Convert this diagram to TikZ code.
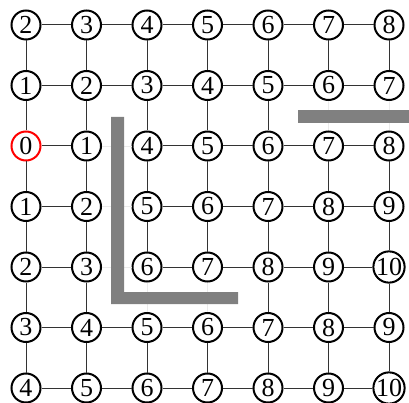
\documentclass[tikz,border=0pt]{standalone}
\usepackage{fontspec}
\setmainfont{Liberation Serif}
\begin{document}
\begin{tikzpicture}[x=1pt,y=-1pt,
  cell/.style={circle,draw=black,fill=white,line width=2pt,minimum size=29pt,inner sep=0pt,font=\fontsize{26}{26}\selectfont},
  startcell/.style={cell,draw=red},
  edge/.style={draw=black!80,line width=1pt},
  faint/.style={draw=black!8,line width=0.8pt},
  wall/.style={fill=black!50,draw=none}]
\useasboundingbox (0,0) rectangle (409,403);
\foreach \row [count=\r from 0] in {{2,3,4,5,6,7,8},{1,2,3,4,5,6,7},{0,1,4,5,6,7,8},{1,2,5,6,7,8,9},{2,3,6,7,8,9,10},{3,4,5,6,7,8,9},{4,5,6,7,8,9,10}}{
  \foreach \v [count=\c from 0] in \row {
    \ifnum\v=0
      \node[startcell] (n-\r-\c) at ({26+60.5*\c},{25+60.5*\r}) {\v};
    \else
      \node[cell] (n-\r-\c) at ({26+60.5*\c},{25+60.5*\r}) {\v};
    \fi
  }
}
% horizontal edges
\foreach \r in {0,...,6}{
  \foreach \c [count=\d from 1] in {0,...,5}{
    \pgfmathtruncatemacro\blk{and(\c==1,and(\r>1,\r<5))}
    \ifnum\blk=1
      \draw[faint] (n-\r-\c) -- (n-\r-\d);
    \else
      \draw[edge] (n-\r-\c) -- (n-\r-\d);
    \fi
  }
}
% vertical edges
\foreach \r [count=\s from 1] in {0,...,5}{
  \foreach \c in {0,...,6}{
    \pgfmathtruncatemacro\blk{or(and(\r==4,or(\c==2,\c==3)),and(\r==1,or(\c==5,\c==6)))}
    \ifnum\blk=1
      \draw[faint] (n-\r-\c) -- (n-\s-\c);
    \else
      \draw[edge] (n-\r-\c) -- (n-\s-\c);
    \fi
  }
}
% walls
\fill[wall] (111,117) -- (124,117) -- (124,292) -- (238,292) -- (238,304) -- (111,304) -- cycle;
\fill[wall] (298,110) rectangle (409,123);
\end{tikzpicture}
\end{document}
